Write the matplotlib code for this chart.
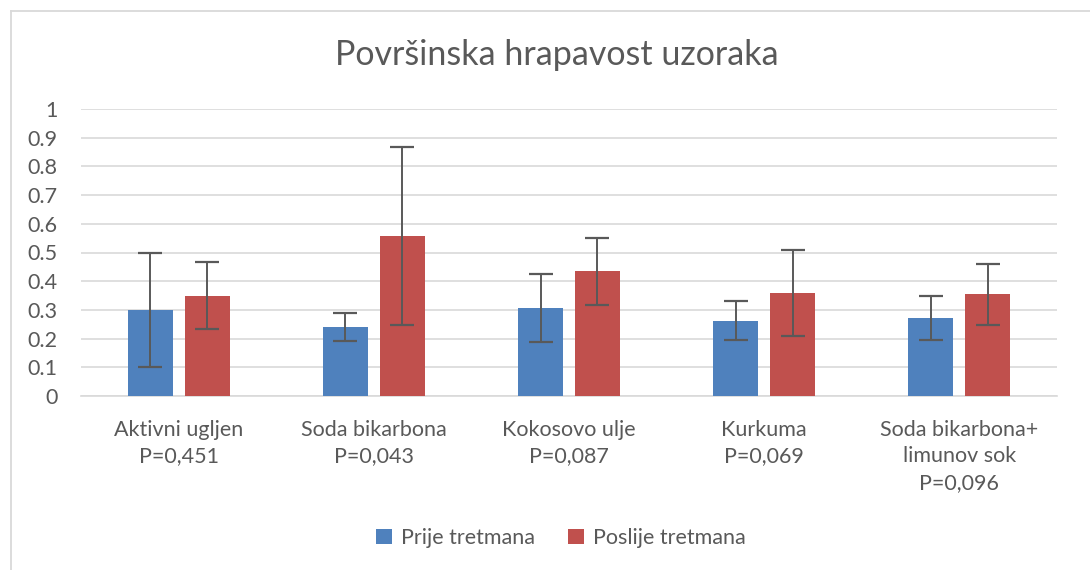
import matplotlib
matplotlib.use("Agg")
import matplotlib.pyplot as plt
import numpy as np
from matplotlib.lines import Line2D

categories = ["Aktivni ugljen\nP=0,451", "Soda bikarbona\nP=0,043", "Kokosovo ulje\nP=0,087",
              "Kurkuma\nP=0,069", "Soda bikarbona+\nlimunov sok\nP=0,096"]
prije = [0.300, 0.240, 0.306, 0.262, 0.272]
prije_err = [0.199, 0.048, 0.118, 0.068, 0.078]
poslije = [0.350, 0.558, 0.434, 0.358, 0.354]
poslije_err = [0.116, 0.311, 0.118, 0.150, 0.106]
series_names = ["Prije tretmana", "Poslije tretmana"]
yticks = [0, 0.1, 0.2, 0.3, 0.4, 0.5, 0.6, 0.7, 0.8, 0.9, 1]
ytick_labels = ["0", "0.1", "0.2", "0.3", "0.4", "0.5", "0.6", "0.7", "0.8", "0.9", "1"]

plt.rcParams['font.family'] = ['Lato', 'DejaVu Sans']
txt = '#595959'

W, H = 1090, 570
fig = plt.figure(figsize=(10.9, 5.7), dpi=100)
ax = fig.add_axes([81 / W, 1 - 396 / H, (1057 - 81) / W, (396 - 109) / H])

x = np.arange(len(categories))
w = 0.23
off = 0.146
ekw = dict(ecolor='#595959', elinewidth=1.4, capsize=8.5, capthick=1.6)
ax.bar(x - off, prije, w, yerr=prije_err, color='#4F81BD', label=series_names[0], error_kw=ekw, zorder=3)
ax.bar(x + off, poslije, w, yerr=poslije_err, color='#C0504D', label=series_names[1], error_kw=ekw, zorder=3)

ax.set_xlim(-0.5, len(categories) - 0.5)
ax.set_ylim(0, 1)
ax.set_yticks(yticks)
ax.set_yticklabels(ytick_labels)
ax.set_xticks(x)
ax.set_xticklabels(categories, linespacing=1.42)
ax.yaxis.grid(True, color='#d9d9d9', linewidth=1.2, zorder=0)
for s in ['top', 'right', 'left']:
    ax.spines[s].set_visible(False)
ax.spines['bottom'].set_color('#d9d9d9')
ax.spines['bottom'].set_linewidth(1.2)
ax.tick_params(axis='both', length=0, labelsize=15.5, colors=txt)
ax.tick_params(axis='x', pad=17)
ax.tick_params(axis='y', pad=17)

fig.text(556.5 / W, 1 - 65 / H, "Površinska hrapavost uzoraka", ha='center', va='baseline',
         fontsize=24.5, color=txt)

leg = fig.legend(loc='center', bbox_to_anchor=(561 / W, 1 - 538 / H), ncol=2, frameon=False,
                 fontsize=15.5, handlelength=0.75, handleheight=0.75, columnspacing=1.55, handletextpad=0.4)
for t in leg.get_texts():
    t.set_color(txt)

bc = '#d9d9d9'
fig.add_artist(Line2D([10.5 / W, 10.5 / W], [0, 1 - 10.5 / H], transform=fig.transFigure, color=bc, linewidth=1.3))
fig.add_artist(Line2D([10.5 / W, 1], [1 - 10.5 / H, 1 - 10.5 / H], transform=fig.transFigure, color=bc, linewidth=1.3))

fig.savefig("out.png", dpi=100, facecolor='white')
